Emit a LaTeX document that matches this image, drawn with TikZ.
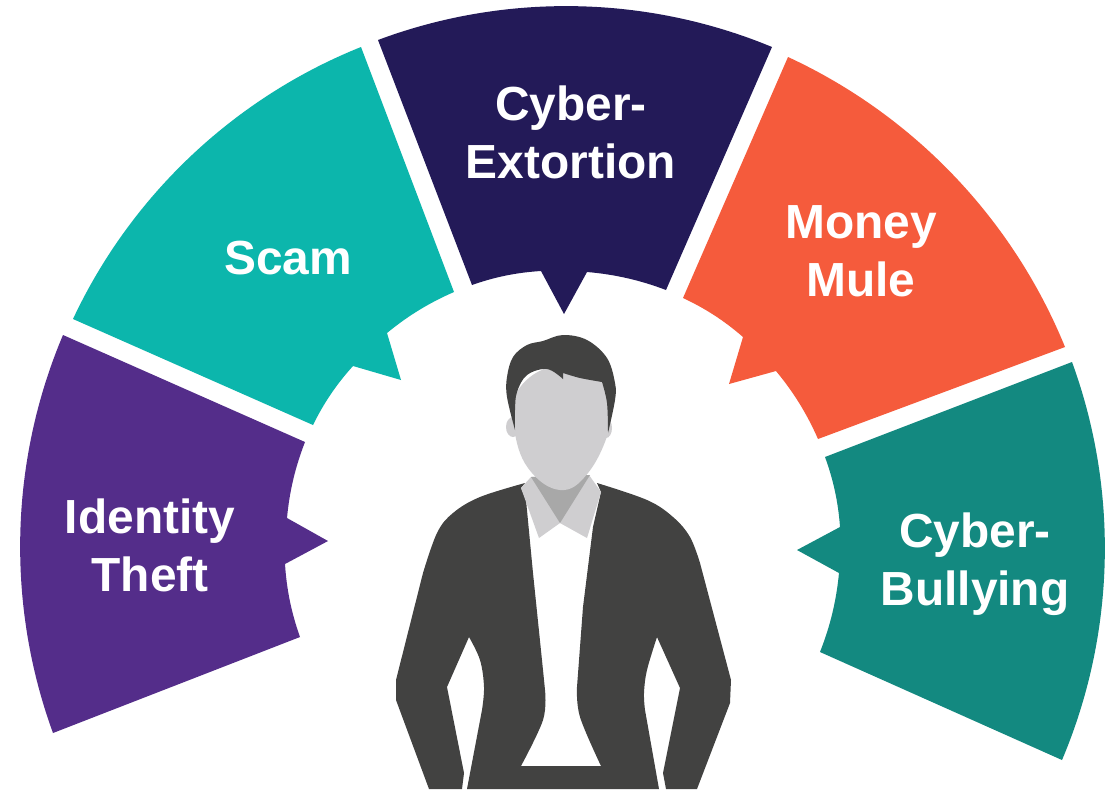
\documentclass[tikz,border=0pt]{standalone}
\usepackage{fontspec}
\setmainfont{Liberation Sans}
\definecolor{identitycol}{HTML}{542D8A}
\definecolor{scamcol}{HTML}{0CB6AC}
\definecolor{extortioncol}{HTML}{231A58}
\definecolor{mulecol}{HTML}{F55B3C}
\definecolor{bullyingcol}{HTML}{138980}
\definecolor{suitcol}{HTML}{424241}
\definecolor{facecol}{HTML}{CFCED0}
\definecolor{shadowcol}{HTML}{A8A8A8}
\begin{document}
\begin{tikzpicture}[x=0.75pt,y=-0.75pt,
                    arcside/.style={bend right=#1,looseness=.88},
                    main node/.style={align=center,text=white,inner sep=0pt,font=\fontsize{35.9}{43.5}\selectfont\bfseries}]

  \useasboundingbox (0,0) rectangle (1110,790);
  \fill[white] (0,0) rectangle (1110,790);

  \fill[identitycol] (63,335) to[arcside=21.5] (53,733) -- (300,637) to[arcside=-8] (285,564) -- (328,541) -- (287,518) to[arcside=-8] (305,442) -- cycle;
  \fill[scamcol] (73,319) to[arcside=-21.5] (361,47) -- (454,292) to[arcside=8] (387,333) -- (401,380) -- (353,366) to[arcside=8] (313,425) -- cycle;
  \fill[extortioncol] (378,40) to[arcside=-21.5] (772,47) -- (666,290) to[arcside=8] (587,272) -- (564,314) -- (541,271) to[arcside=8] (472,285) -- cycle;
  \fill[mulecol] (788,57) to[arcside=-21.5] (1065,347) -- (818,439) to[arcside=8] (776,371) -- (729,384) -- (743,337) to[arcside=8] (683,298) -- cycle;
  \fill[bullyingcol] (1072,362) to[arcside=-21.5] (1062,760) -- (820,652) to[arcside=8] (839,573) -- (797,550) -- (840,527) to[arcside=8] (825,457) -- cycle;

  \node[main node] (identity) at (150,545) {Identity\\Theft};
  \node[main node] (scam) at (288,258) {Scam};
  \node[main node] (extortion) at (571,132) {Cyber-\\Extortion};
  \node[main node] (mule) at (861,251) {Money\\Mule};
  \node[main node] (bullying) at (975,564) {Cyber-\\Bullying};

  % person
  \fill[facecol] (513,427) ellipse (7 and 10);
  \fill[facecol] (606,428) ellipse (6 and 10);
  \fill[suitcol] (521,488) -- (525,483) -- plot[smooth,tension=.6] coordinates {(525,483) (480,497) (453,513) (437,533) (423,573)}
    -- (396,680) -- (396,700) -- (429,789) -- (462,789) -- (464,773) -- (447,687) -- (469,637)
    -- plot[smooth,tension=.6] coordinates {(469,637) (480,660) (484,687) (482,710)} -- (467,789) -- (659,789) -- (645,710)
    -- plot[smooth,tension=.6] coordinates {(645,710) (644,693) (647,670) (657,637)} -- (680,688) -- (663,773) -- (666,789) -- (697,789)
    -- (730,703) -- (731,680) -- plot[smooth,tension=.6] coordinates {(700,563) (690,537) (673,517) (647,500) (597,483)} -- (601,492) -- (593,527) -- (583,607) -- (577,687)
    -- plot[smooth,tension=.6] coordinates {(577,687) (580,717) (601,766)} -- (521,766)
    -- plot[smooth,tension=.6] coordinates {(521,766) (543,720) (545,690)} -- (543,670) -- (533,573) -- (526,500) -- cycle;
  \fill[facecol] (521,488) -- (531,477) -- (589,475) -- (601,492) -- (587,538) -- (560,523) -- (539,538) -- cycle;
  \fill[shadowcol] (531,477) -- (590,475) -- (560,523) -- cycle;
  \fill[facecol] plot[smooth cycle,tension=.7] coordinates {(547,368) (517,392) (514,427) (528,468) (560,490) (588,473) (609,430) (608,403) (600,380) (580,372)};
  \fill[suitcol] plot[smooth,tension=.6] coordinates {(515,430) (507,397) (507,377) (513,357) (527,345) (543,341) (563,335) (587,340) (607,358) (615,383) (615,400) (608,433)}
    -- plot[smooth,tension=.6] coordinates {(608,433) (607,403) (602,382)} -- plot[smooth,tension=.5] coordinates {(602,382) (580,378) (563,373)}
    -- (563,379) -- plot[smooth,tension=.6] coordinates {(563,379) (547,369) (527,375) (517,392) (515,410) (515,430)} -- cycle;

\end{tikzpicture}
\end{document}
